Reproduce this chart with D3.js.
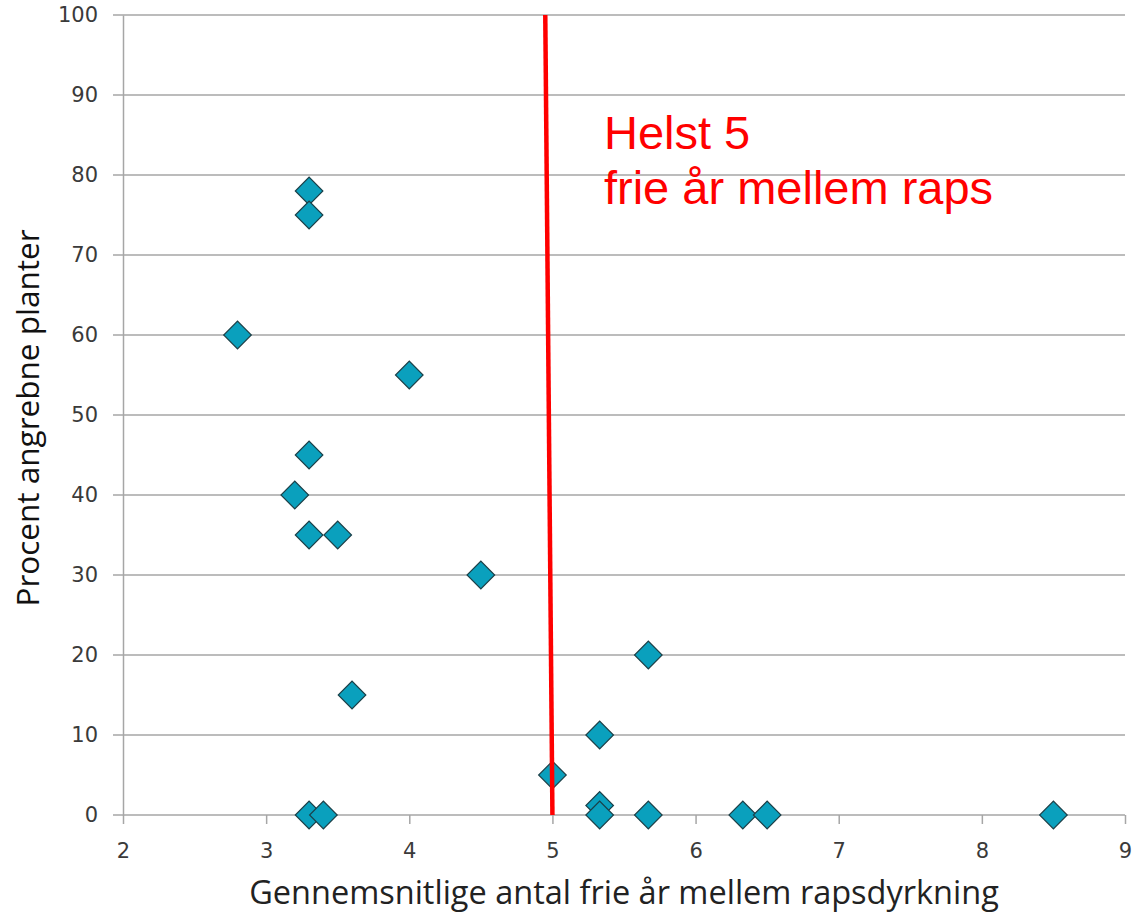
<!DOCTYPE html>
<html>
<head>
<meta charset="utf-8">
<script src="https://cdn.jsdelivr.net/npm/d3@7"></script>
<style>
  body { margin: 0; background: #fff; }
  .tick text { font-family: "DejaVu Sans", Verdana, sans-serif; fill: #3a3a3a; }
</style>
</head>
<body>
<svg id="chart" width="1132" height="915"></svg>
<script>
// data
var yearsFree = [3.3, 3.3, 2.8, 4.0, 3.3, 3.2, 3.3, 3.5, 4.5, 3.6, 5.67, 5.33, 5.0, 5.33, 5.33, 3.3, 3.4, 5.67, 6.33, 6.5, 8.5];
var pctAttacked = [78, 75, 60, 55, 45, 40, 35, 35, 30, 15, 20, 10, 5, 1.2, 0, 0, 0, 0, 0, 0, 0];
var xTicks = [2, 3, 4, 5, 6, 7, 8, 9];
var yTicks = [0, 10, 20, 30, 40, 50, 60, 70, 80, 90, 100];
// the red "5 years" marker line, hand drawn slightly slanted
var markerX = [4.95, 5.0];
var markerY = [100, 0];
var noteLines = ["Helst 5", "frie år mellem raps"];

var svg = d3.select("#chart");
var margin = {left: 123, right: 7, top: 15, bottom: 100};
var width = 1132, height = 915;

var x = d3.scaleLinear().domain([2, 9]).range([margin.left, width - margin.right]);
var y = d3.scaleLinear().domain([0, 100]).range([height - margin.bottom, margin.top]);

// horizontal grid
svg.append("g")
    .selectAll("line")
    .data(yTicks)
    .enter()
    .append("line")
    .attr("x1", x(2) - 10)
    .attr("x2", x(9))
    .attr("y1", function (d) { return y(d); })
    .attr("y2", function (d) { return y(d); })
    .style("stroke", "#a6a6a6")
    .style("stroke-width", "1.5px");

var yAxis = svg.append("g")
    .attr("transform", "translate(" + x(2) + ",0)")
    .call(d3.axisLeft(y).tickValues(yTicks).tickFormat(d3.format("d")).tickSize(0).tickPadding(25));
yAxis.select(".domain").style("stroke", "#a6a6a6").style("stroke-width", "1.5px");
yAxis.selectAll("text").style("font-size", "21px");

var xAxis = svg.append("g")
    .attr("transform", "translate(0," + y(0) + ")")
    .call(d3.axisBottom(x).tickValues(xTicks).tickFormat(d3.format("d")).tickSize(9).tickPadding(19));
xAxis.select(".domain").remove();
xAxis.selectAll("line").style("stroke", "#a6a6a6").style("stroke-width", "1.5px");
xAxis.selectAll("text").style("font-size", "21px");

// axis titles
svg.append("text")
    .attr("transform", "translate(39," + (y(50) + 3) + ") rotate(-90)")
    .attr("text-anchor", "middle")
    .style("font-family", "'Open Sans', sans-serif")
    .style("font-size", "31.5px")
    .style("fill", "#111")
    .text("Procent angrebne planter");

svg.append("text")
    .attr("x", x(5.5))
    .attr("y", 904)
    .attr("text-anchor", "middle")
    .style("font-family", "'Open Sans', sans-serif")
    .style("font-size", "32.5px")
    .style("fill", "#222")
    .text("Gennemsnitlige antal frie år mellem rapsdyrkning");

// points
var pts = d3.range(yearsFree.length).map(function (i) {
    return {x: yearsFree[i], y: pctAttacked[i]};
});
var diamond = d3.symbol().type(d3.symbolSquare).size(380);
svg.append("g")
    .selectAll("path")
    .data(pts)
    .enter()
    .append("path")
    .attr("d", diamond)
    .attr("transform", function (d) {
        return "translate(" + x(d.x) + "," + y(d.y) + ") rotate(45)";
    })
    .style("fill", "#0aa0bd")
    .style("stroke", "#1b3f47")
    .style("stroke-width", "1.2px");

// red marker line
svg.append("line")
    .attr("x1", x(markerX[0]))
    .attr("y1", y(markerY[0]))
    .attr("x2", x(markerX[1]))
    .attr("y2", y(markerY[1]))
    .style("stroke", "#ff0000")
    .style("stroke-width", "4.5px");

var note = svg.append("text")
    .style("font-family", "'Liberation Sans', Arial, sans-serif")
    .style("font-size", "47px")
    .style("fill", "#ff0000");
note.selectAll("tspan")
    .data(noteLines)
    .enter()
    .append("tspan")
    .attr("x", x(5.36))
    .attr("y", function (d, i) { return 149 + i * 55; })
    .text(function (d) { return d; });
</script>
</body>
</html>
